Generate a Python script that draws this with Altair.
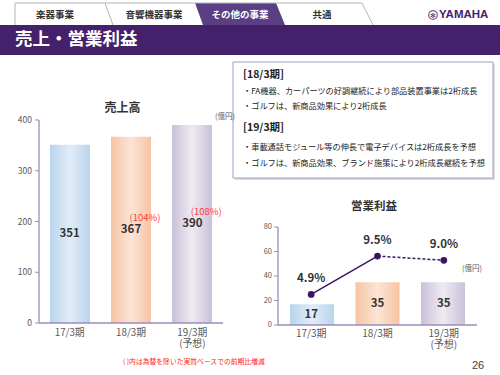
import altair as alt
import pandas as pd

FONT = "Noto Sans CJK JP"

# ---------------- data ----------------
periods = ["17/3期", "18/3期", "19/3期"]
period_labels = ["17/3期", "18/3期", "19/3期\n(予想)"]
sales = [351, 367, 390]
sales_growth = ["", "(104%)", "(108%)"]
profit = [17, 35, 35]
margin = [4.9, 9.5, 9.0]
margin_labels = ["4.9%", "9.5%", "9.0%"]
sales_ticks = [0, 100, 200, 300, 400]
profit_ticks = [0, 20, 40, 60, 80]
tabs = ["楽器事業", "音響機器事業", "その他の事業", "共通"]
page_title = "売上・営業利益"
sales_title = "売上高"
profit_title = "営業利益"
unit = "(億円)"
note = "( )内は為替を除いた実質ベースでの前期比増減"
page_no = "26"
box_heads = ["[18/3期]", "[19/3期]"]
box_lines_18 = ["・FA機器、カーパーツの好調継続により部品装置事業は2桁成長",
                "・ゴルフは、新商品効果により2桁成長"]
box_lines_19 = ["・車載通話モジュール等の伸長で電子デバイスは2桁成長を予想",
                "・ゴルフは、新商品効果、ブランド施策により2桁成長継続を予想"]

# ---------------- helpers ----------------
one = pd.DataFrame({"a": [0]})
PURPLE = "#46216b"
TAB_PURPLE = "#5b3f84"
AXIS = "#9a8dbb"
GRAY = "#595959"


def txt(s, x, y, size, color="#333333", weight="normal", align="left",
        baseline="middle", font=FONT):
    return alt.Chart(one).mark_text(
        text=s, fontSize=size, color=color, fontWeight=weight, align=align,
        baseline=baseline, font=font).encode(x=alt.value(x), y=alt.value(y))


def rect(x, x2, y, y2, **kw):
    return alt.Chart(one).mark_rect(**kw).encode(
        x=alt.value(x), x2=alt.value(x2), y=alt.value(y), y2=alt.value(y2))


def rule(x, y, x2, y2, **kw):
    return alt.Chart(one).mark_rule(**kw).encode(
        x=alt.value(x), y=alt.value(y), x2=alt.value(x2), y2=alt.value(y2))


def grad(edge, center):
    return alt.LinearGradient(
        gradient="linear", x1=0, x2=1, y1=0, y2=0,
        stops=[alt.GradientStop(color=edge, offset=0),
               alt.GradientStop(color=center, offset=0.5),
               alt.GradientStop(color=edge, offset=1)])


bar_grads = [grad("#b8d4ec", "#e2edf8"), grad("#f6c4a2", "#fce4d6"),
             grad("#c9c1d8", "#eeeaf3")]

layers = []

# ---------------- header ----------------
tab_shape = pd.DataFrame({"x": [195, 203, 276, 285], "y": [3, 3, 3, 25],
                          "y2": [3, 25, 25, 25]})
ident_x = alt.Scale(domain=[0, 500], range=[0, 500])
ident_y = alt.Scale(domain=[0, 375], range=[0, 375])
layers.append(alt.Chart(tab_shape).mark_area(color=TAB_PURPLE, orient="vertical").encode(
    x=alt.X("x:Q", scale=ident_x, axis=None),
    y=alt.Y("y:Q", scale=ident_y, axis=None),
    y2="y2:Q"))
layers.append(rule(15, 3, 362, 3, color="#b5b5b5", strokeWidth=1))
layers.append(rule(15, 3, 15, 25, color="#b5b5b5", strokeWidth=1))
layers.append(rule(105, 3, 113, 25, color="#b5b5b5", strokeWidth=1))
layers.append(rule(362, 3, 373, 25, color="#b5b5b5", strokeWidth=1))
layers.append(rect(0, 500, 25, 55, color=PURPLE))
tab_x = [55, 154, 240, 322]
for i, t in enumerate(tabs):
    layers.append(txt(t, tab_x[i], 15, 9.5, color="#ffffff" if i == 2 else "#333333",
                      weight="bold", align="center"))
layers.append(txt(page_title, 15, 40, 17.5, color="#ffffff", weight="bold"))
layers.append(alt.Chart(one).mark_point(shape="circle", filled=False, color=PURPLE,
                                        size=75, strokeWidth=1.2).encode(
    x=alt.value(433), y=alt.value(15)))
layers.append(txt("✻", 433, 15.5, 7, color=PURPLE, align="center", font="DejaVu Sans"))
layers.append(txt("YAMAHA", 439, 15, 11.5, color=PURPLE, weight="bold",
                  font="Liberation Sans"))

# ---------------- text box ----------------
layers.append(rect(235, 495, 64, 180, color="#dcdcdc"))
layers.append(rect(233, 493, 62, 178, fill="#ffffff", stroke="#a59bbf", strokeWidth=1))
layers.append(txt(box_heads[0], 243, 75, 10.5, color="#222222", weight="bold"))
layers.append(txt(box_lines_18[0], 243, 92, 8.2, color="#222222"))
layers.append(txt(box_lines_18[1], 243, 107, 8.2, color="#222222"))
layers.append(txt(box_heads[1], 243, 128, 10.5, color="#222222", weight="bold"))
layers.append(txt(box_lines_19[0], 243, 148, 8.2, color="#222222"))
layers.append(txt(box_lines_19[1], 243, 164, 8.2, color="#222222"))

# ---------------- sales chart ----------------
sales_df = pd.DataFrame({"period": periods, "label": period_labels, "sales": sales,
                         "growth": sales_growth, "idx": list(range(3))})
sx = alt.Scale(domain=periods, range=[39, 223], paddingInner=0.344, paddingOuter=0.18)
sy = alt.Scale(domain=[0, 400], range=[323, 120], nice=False)
SX = alt.X("period:N", scale=sx, axis=None)

for i in range(3):
    layers.append(alt.Chart(sales_df).transform_filter(alt.datum.idx == i)
                  .mark_bar(color=bar_grads[i]).encode(
                      x=SX, y=alt.Y("sales:Q", scale=sy, axis=None)))
layers.append(alt.Chart(sales_df).transform_calculate(half="datum.sales / 2")
              .mark_text(fontSize=11.5, fontWeight="bold", color="#333333", font=FONT)
              .encode(x=SX, y=alt.Y("half:Q", scale=sy, axis=None), text="sales:Q"))
layers.append(alt.Chart(sales_df).transform_filter("datum.growth != ''")
              .transform_calculate(half="datum.sales / 2")
              .mark_text(fontSize=9.5, color="#ff3b3b", font=FONT, dx=14, dy=-12)
              .encode(x=SX, y=alt.Y("half:Q", scale=sy, axis=None), text="growth:N"))
st_df = pd.DataFrame({"v": sales_ticks})
layers.append(alt.Chart(st_df).mark_text(fontSize=8.5, color=GRAY, align="right", font=FONT)
              .encode(x=alt.value(32), y=alt.Y("v:Q", scale=sy, axis=None), text="v:Q"))
layers.append(alt.Chart(st_df).mark_rule(color=AXIS).encode(
    x=alt.value(35), x2=alt.value(39), y=alt.Y("v:Q", scale=sy, axis=None)))
layers.append(rule(39, 120, 39, 323, color=AXIS, strokeWidth=1.3))
layers.append(rule(39, 323, 223, 323, color=AXIS, strokeWidth=1.3))
layers.append(alt.Chart(sales_df).mark_text(fontSize=9.8, color=GRAY, baseline="top",
                                            lineBreak="\n", lineHeight=11, font=FONT)
              .encode(x=SX, y=alt.value(328), text="label:N"))
layers.append(txt(sales_title, 122.5, 108, 12, color="#333333", weight="bold", align="center"))
layers.append(txt(unit, 235, 117, 7.5, color=GRAY, align="right"))

# ---------------- profit chart ----------------
prof_df = pd.DataFrame({"period": periods, "label": period_labels, "profit": profit,
                        "margin": margin, "mlabel": margin_labels, "idx": list(range(3))})
px = alt.Scale(domain=periods, range=[278, 477], paddingInner=0.328, paddingOuter=0.183)
py = alt.Scale(domain=[0, 80], range=[325, 227], nice=False)
my = alt.Scale(domain=[1.22, 13.0], range=[325, 227], nice=False)
PX = alt.X("period:N", scale=px, axis=None)

for i in range(3):
    layers.append(alt.Chart(prof_df).transform_filter(alt.datum.idx == i)
                  .mark_bar(color=bar_grads[i]).encode(
                      x=PX, y=alt.Y("profit:Q", scale=py, axis=None)))
layers.append(alt.Chart(prof_df).transform_calculate(half="datum.profit / 2")
              .mark_text(fontSize=11.5, fontWeight="bold", color="#333333", font=FONT)
              .encode(x=PX, y=alt.Y("half:Q", scale=py, axis=None), text="profit:Q"))
pt_df = pd.DataFrame({"v": profit_ticks})
layers.append(alt.Chart(pt_df).mark_text(fontSize=7.5, color=GRAY, align="right", font=FONT)
              .encode(x=alt.value(272), y=alt.Y("v:Q", scale=py, axis=None), text="v:Q"))
layers.append(alt.Chart(pt_df).mark_rule(color=AXIS).encode(
    x=alt.value(274), x2=alt.value(278), y=alt.Y("v:Q", scale=py, axis=None)))
layers.append(rule(278, 227, 278, 325, color=AXIS, strokeWidth=1.3))
layers.append(rule(278, 325, 477, 325, color=AXIS, strokeWidth=1.3))
layers.append(alt.Chart(prof_df).mark_text(fontSize=10, color=GRAY, baseline="top",
                                           lineBreak="\n", lineHeight=11, font=FONT)
              .encode(x=PX, y=alt.value(329), text="label:N"))
layers.append(txt(profit_title, 374, 207, 11.5, color="#333333", weight="bold", align="center"))
layers.append(txt(unit, 482, 269, 7.5, color=GRAY, align="right"))

LINE = "#3b1466"
layers.append(alt.Chart(prof_df).transform_filter(alt.datum.idx <= 1)
              .mark_line(color=LINE, strokeWidth=1.5).encode(
                  x=PX, y=alt.Y("margin:Q", scale=my, axis=None), order="idx:Q"))
layers.append(alt.Chart(prof_df).transform_filter(alt.datum.idx >= 1)
              .mark_line(color=LINE, strokeWidth=1.5, strokeDash=[3, 2]).encode(
                  x=PX, y=alt.Y("margin:Q", scale=my, axis=None), order="idx:Q"))
layers.append(alt.Chart(prof_df).mark_point(filled=True, color=LINE, size=45, opacity=1)
              .encode(x=PX, y=alt.Y("margin:Q", scale=my, axis=None)))
layers.append(alt.Chart(prof_df).mark_text(fontSize=11.5, fontWeight="bold", color="#333333",
                                           font=FONT, dy=-15)
              .encode(x=PX, y=alt.Y("margin:Q", scale=my, axis=None), text="mlabel:N"))

# ---------------- footer ----------------
layers.append(txt(note, 123, 362, 6.8, color="#ff2020"))
layers.append(txt(page_no, 478, 366, 11, color="#404040", align="center", font="Liberation Sans"))

chart = (alt.layer(*layers)
         .resolve_scale(x="independent", y="independent")
         .properties(width=500, height=375, padding=0, background="#ffffff",
                     autosize=alt.AutoSizeParams(type="none"))
         .configure_view(stroke=None))

chart.save("out.html", embed_options={"renderer": "svg", "actions": False})
